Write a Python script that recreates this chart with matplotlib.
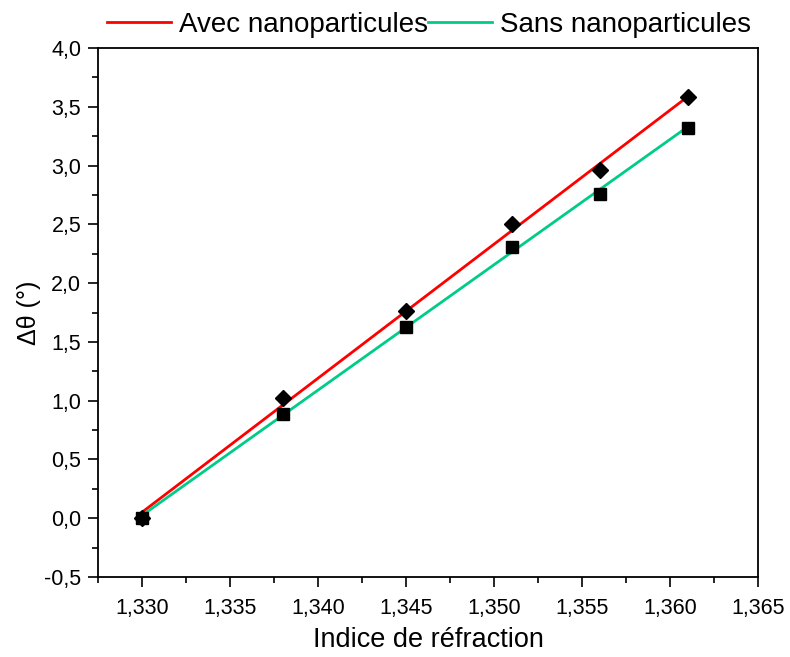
import numpy as np
import matplotlib.pyplot as plt
from matplotlib.ticker import MultipleLocator, FuncFormatter

plt.rcParams['font.family'] = ['Liberation Sans', 'DejaVu Sans']

n = [1.330, 1.338, 1.345, 1.351, 1.356, 1.361]
avec = [0.0, 1.02, 1.76, 2.50, 2.96, 3.58]
sans = [0.0, 0.89, 1.63, 2.31, 2.76, 3.32]

red = '#ff0000'
green = '#00cc88'

fig = plt.figure(figsize=(7.9, 6.57), dpi=100)
ax = fig.add_axes([98 / 790, 80 / 657, 660 / 790, 529 / 657])

xs = np.array([n[0], n[-1]])
pa = np.polyfit(n, avec, 1)
ps = np.polyfit(n, sans, 1)
ax.plot(xs, np.polyval(pa, xs), color=red, lw=2, label='Avec nanoparticules', zorder=2)
ax.plot(xs, np.polyval(ps, xs), color=green, lw=2, label='Sans nanoparticules', zorder=2)
ax.plot(n, sans, 's', color='black', ms=8, zorder=3)
ax.plot(n, avec, 'D', color='black', ms=8, zorder=3)

ax.set_xlim(1.3275, 1.365)
ax.set_ylim(-0.5, 4.0)
ax.xaxis.set_major_locator(MultipleLocator(0.005))
ax.xaxis.set_minor_locator(MultipleLocator(0.0025))
ax.yaxis.set_major_locator(MultipleLocator(0.5))
ax.yaxis.set_minor_locator(MultipleLocator(0.25))
ax.xaxis.set_major_formatter(FuncFormatter(lambda v, p: ('%.3f' % v).replace('.', ',')))
ax.yaxis.set_major_formatter(FuncFormatter(lambda v, p: ('%.1f' % v).replace('.', ',')))
ax.tick_params(which='major', direction='out', length=7, width=1.2, labelsize=15.5)
ax.tick_params(which='minor', direction='out', length=4, width=1.2)
ax.tick_params(axis='x', pad=8)
ax.tick_params(axis='y', pad=5)
for s in ax.spines.values():
    s.set_linewidth(1.3)

ax.set_xlabel('Indice de réfraction', fontsize=19.5, labelpad=6)
ax.set_ylabel('Δθ (°)', fontsize=18, labelpad=2)

fig.legend(loc='center', bbox_to_anchor=(429 / 790, 1 - 25 / 657), ncol=2, frameon=False,
           fontsize=20, handlelength=2.3, columnspacing=0.0, handletextpad=0.3)

fig.savefig('out.png', dpi=100)
